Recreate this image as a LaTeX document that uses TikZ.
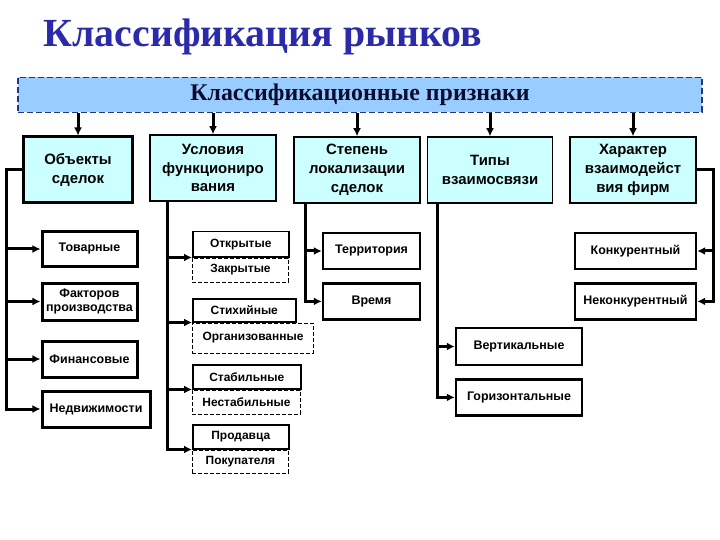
\documentclass[tikz,border=0pt]{standalone}
\usepackage{fontspec}
\setmainfont{Liberation Serif}
\setsansfont{Liberation Sans}
\usetikzlibrary{calc,arrows.meta,positioning}
\definecolor{hdrfill}{RGB}{153,204,255}
\definecolor{hdrline}{RGB}{31,56,140}
\definecolor{catfill}{RGB}{204,255,255}
\definecolor{titleblue}{RGB}{43,43,170}
\definecolor{hdrtext}{RGB}{12,12,50}
\tikzset{
	busline/.style={line width=3bp, line cap=rect},
	link/.style={line width=3bp, -{Latex[length=8bp,width=8bp]}},
}

\begin{document}
\begin{tikzpicture}[x=1bp,y=-1bp,
		hdrbox/.style={
			draw=hdrline, dash pattern=on 6bp off 3bp, line width=1.8bp,
			fill=hdrfill, minimum width=684bp, minimum height=35bp,
			font=\bfseries\fontsize{24}{26}\selectfont, text=hdrtext
		},
		catbox/.style={
			draw, line width=1.5bp, fill=catfill, minimum height=66bp,
			align=center, inner sep=2bp,
			font=\sffamily\bfseries\fontsize{15}{19}\selectfont
		},
		itembox/.style={
			draw, line width=2.4bp, fill=white, minimum height=36bp,
			align=center, inner sep=2bp,
			font=\sffamily\bfseries\fontsize{12.5}{15}\selectfont
		},
		upbox/.style={
			draw, line width=1.5bp, fill=white, anchor=north west,
			inner sep=2bp, font=\sffamily\bfseries\fontsize{12}{14}\selectfont
		},
		lowbox/.style={upbox, line width=0.9bp, dash pattern=on 4bp off 2bp}
		]
		\useasboundingbox (0,0) rectangle (720,540);
		
		\node[font=\bfseries\fontsize{40}{42}\selectfont, text=titleblue, anchor=base west] (title) at (40,47) {Классификация рынков};
		\node[hdrbox] (hdr) at (360,95) {Классификационные признаки};
		
		\node[catbox, minimum width=108bp, line width=3bp] (obj) at (78,170) {Объекты\\сделок};
		\node[catbox, minimum width=126bp] (usl) at (213,168) {Условия\\функциониро\\вания};
		\node[catbox, minimum width=126bp] (stp) at (357,170) {Степень\\локализации\\сделок};
		\node[catbox, minimum width=125bp] (tip) at (490,170) {Типы\\взаимосвязи};
		\node[catbox, minimum width=126bp] (har) at (633,170) {Характер\\взаимодейст\\вия фирм};
		
		\foreach \n in {obj,usl,stp,tip,har}
			\draw[link] (\n |- hdr.south) -- (\n.north);
		
		\node[itembox, minimum width=95bp, line width=3bp, minimum height=34bp] (tov) at (89.5,249) {Товарные};
		\node[itembox, minimum width=95bp, line width=3bp, minimum height=37bp, below=14bp of tov] (fak) {Факторов\\производства};
		\node[itembox, minimum width=95bp, line width=3bp, below=18bp of fak] (fin) {Финансовые};
		\node[itembox, minimum width=108bp, line width=3bp, below=11bp of fin.south west, anchor=north west] (ned) {Недвижимости};
		
		\coordinate (lbus) at (6,170);
		\draw[busline] (obj.west) -| (lbus |- ned);
		\foreach \n in {tov,fak,fin,ned}
			\draw[link] (lbus |- \n) -- (\n.west);
		
		\node[upbox, minimum width=96bp, minimum height=25bp] (otk) at (192,231) {Открытые};
		\node[lowbox, minimum width=96bp, minimum height=24bp] (zak) at (otk.south west) {Закрытые};
		\node[upbox, minimum width=103bp, minimum height=23bp] (sti) at (192,298) {Стихийные};
		\node[lowbox, minimum width=121bp, minimum height=30bp] (org) at (sti.south west) {Организованные};
		\node[upbox, minimum width=108bp, minimum height=24bp] (sta) at (192,364) {Стабильные};
		\node[lowbox, minimum width=108bp, minimum height=24bp] (nes) at (sta.south west) {Нестабильные};
		\node[upbox, minimum width=96bp, minimum height=24bp] (pro) at (192,424) {Продавца};
		\node[lowbox, minimum width=96bp, minimum height=23bp] (pok) at (pro.south west) {Покупателя};
		
		\coordinate (ubus) at ($(usl.south west)+(18,0)$);
		\draw[busline] (ubus) -- (ubus |- pro.south west);
		\foreach \n in {otk,sti,sta,pro}
			\draw[link] (ubus |- \n.south west) -- (\n.south west);
		
		\node[itembox, minimum width=97bp] (ter) at (371.5,251) {Территория};
		\node[itembox, minimum width=97bp, below=12bp of ter] (vre) {Время};
		
		\coordinate (sbus) at ($(stp.south west)+(12,0)$);
		\draw[busline] (sbus) -- (sbus |- vre);
		\foreach \n in {ter,vre}
			\draw[link] (sbus |- \n) -- (\n.west);
		
		\node[itembox, minimum width=126bp, minimum height=37bp] (ver) at (519,346.5) {Вертикальные};
		\node[itembox, minimum width=126bp, below=12bp of ver] (gor) {Горизонтальные};
		
		\coordinate (tbus) at ($(tip.south west)+(11,0)$);
		\draw[busline] (tbus) -- (tbus |- gor);
		\foreach \n in {ver,gor}
			\draw[link] (tbus |- \n) -- (\n.west);
		
		\node[itembox, minimum width=121bp] (kon) at (635.5,251) {Конкурентный};
		\node[itembox, minimum width=121bp, below=12bp of kon] (nek) {Неконкурентный};
		
		\coordinate (hbus) at (713,170);
		\draw[busline] (har.east) -| (hbus |- nek);
		\foreach \n in {kon,nek}
			\draw[link] (hbus |- \n) -- (\n.east);
	\end{tikzpicture}
\end{document}
